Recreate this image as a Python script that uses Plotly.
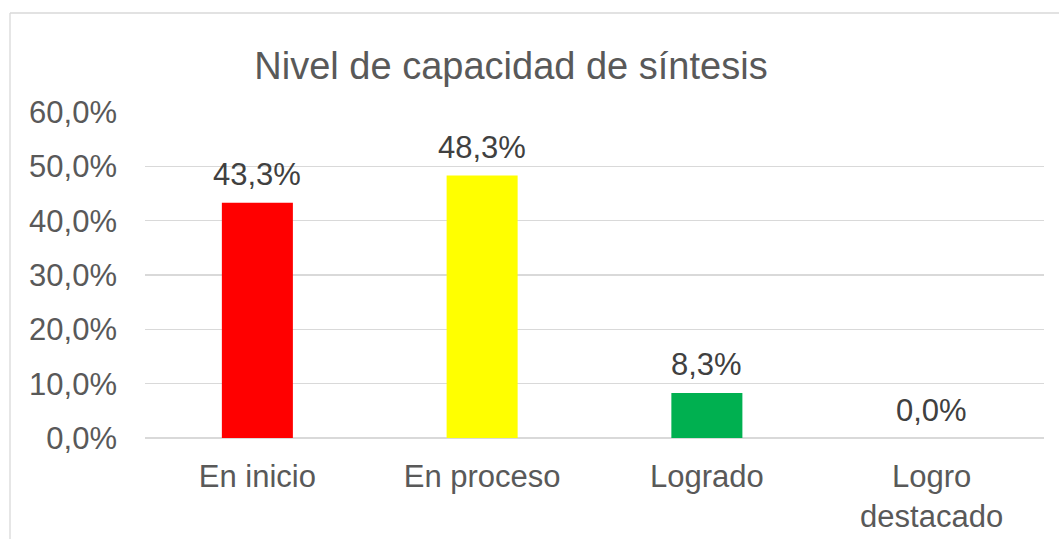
import plotly.graph_objects as go

categories = ["En inicio", "En proceso", "Logrado", "Logro<br>destacado"]
values = [43.3, 48.3, 8.3, 0.0]
bar_colors = ["#FF0000", "#FFFF00", "#00B050", "#5B9BD5"]
tick_vals = [0, 10, 20, 30, 40, 50, 60]
tick_text = ["0,0%", "10,0%", "20,0%", "30,0%", "40,0%", "50,0%", "60,0%"]
title_text = "Nivel de capacidad de síntesis"

FONT = "Liberation Sans, Arial, sans-serif"
W, H = 1059, 539
ML, MR, MT, MB = 145, 15, 112, 101

def fmt(v):
    return f"{v:.1f}".replace(".", ",") + "%"

fig = go.Figure()
fig.add_trace(go.Bar(
    x=categories, y=values,
    marker=dict(color=bar_colors, line=dict(width=0)),
    width=0.316,
    hoverinfo="skip",
))

for c, v in zip(categories, values):
    fig.add_annotation(
        x=c, y=v, xref="x", yref="y",
        text=fmt(v), showarrow=False,
        yanchor="middle", xanchor="center", yshift=28,
        font=dict(family=FONT, size=31, color="#404040"),
    )

pw = W - ML - MR
ph = H - MT - MB
def px_to_paper_x(px):
    return (px - ML) / pw
def px_to_paper_y(py):
    return (H - MB - py) / ph

# chart frame (top and left edges visible)
fig.add_shape(type="line", xref="paper", yref="paper",
              x0=px_to_paper_x(10), x1=px_to_paper_x(1070),
              y0=px_to_paper_y(13), y1=px_to_paper_y(13),
              line=dict(color="#D9D9D9", width=1.3), layer="below")
fig.add_shape(type="line", xref="paper", yref="paper",
              x0=px_to_paper_x(10), x1=px_to_paper_x(10),
              y0=px_to_paper_y(13), y1=px_to_paper_y(560),
              line=dict(color="#D9D9D9", width=1.3), layer="below")

fig.update_layout(
    width=W, height=H,
    margin=dict(l=ML, r=MR, t=MT, b=MB, autoexpand=False),
    paper_bgcolor="white", plot_bgcolor="white",
    showlegend=False,
    title=dict(text=title_text, x=511 / W, y=1 - 66 / H,
               xanchor="center", yanchor="middle", xref="container", yref="container",
               font=dict(family=FONT, size=38, color="#595959")),
    font=dict(family=FONT, color="#595959"),
)
fig.update_xaxes(
    showgrid=False, showline=False, zeroline=False,
    tickfont=dict(family=FONT, size=31, color="#595959"),
    ticks="", ticklabelstandoff=17,
)
fig.update_yaxes(
    range=[0, 60], tickvals=tick_vals, ticktext=tick_text,
    showgrid=True, gridcolor="#D9D9D9", gridwidth=1.3,
    zeroline=True, zerolinecolor="#D9D9D9", zerolinewidth=1.3,
    showline=False, ticks="",
    tickfont=dict(family=FONT, size=31, color="#595959"),
    ticklabelstandoff=27,
)

fig.write_html(
    "out.html",
    config={"displayModeBar": False, "staticPlot": True},
    post_script="document.body.style.margin='0';document.body.style.overflow='hidden';",
)
